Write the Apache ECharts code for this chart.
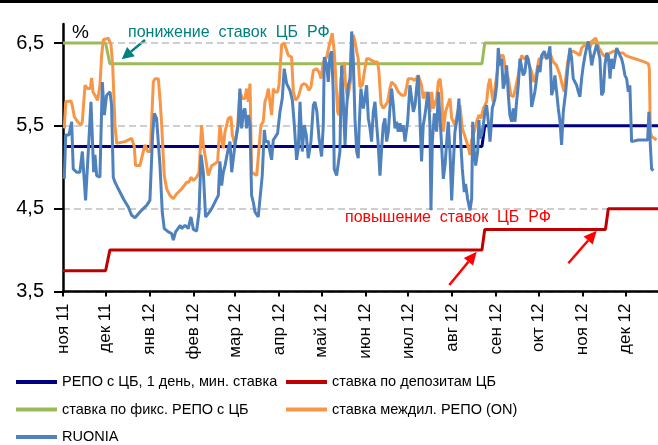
<!DOCTYPE html>
<html>
<head>
<meta charset="utf-8">
<script src="https://cdn.jsdelivr.net/npm/echarts@6/dist/echarts.min.js"></script>
<style>
html, body { margin: 0; padding: 0; background: #fff; }
#chart { width: 658px; height: 445px; }
</style>
</head>
<body>
<div id="chart"></div>
<script>
// x = дни от 23.11.2011 (начало ряда), y = ставка, %
const monthTickDays = [0, 30, 61, 92, 121, 152, 182, 213, 243, 274, 305, 335, 366, 396];
const monthLabels = ['ноя 11', 'дек 11', 'янв 12', 'фев 12', 'мар 12', 'апр 12', 'май 12',
  'июн 12', 'июл 12', 'авг 12', 'сен 12', 'окт 12', 'ноя 12', 'дек 12'];
const yTicks = [3.5, 4.5, 5.5, 6.5];

// ступенчатые ставки ЦБ
const repoMin = [[0, 5.25], [295, 5.25], [297, 5.5], [419, 5.5]];
const depositRate = [[0, 3.75], [30, 3.75], [33, 4.0], [295, 4.0], [297, 4.25], [382, 4.25], [384, 4.5], [419, 4.5]];
const fixedRepo = [[0, 6.5], [30, 6.5], [33, 6.25], [295, 6.25], [297, 6.5], [419, 6.5]];

// междилерское РЕПО овернайт
const interdealerRepo = [
  [0.9,5.47],[1.9,5.79],[5.6,5.80],[6.5,5.75],[8.0,5.61],[10.3,5.55],[12.6,5.51],[13.6,5.55],[15.5,5.99],[17.3,5.95],
  [19.2,5.95],[20.2,6.08],[21.1,5.91],[22.5,5.87],[24.4,5.81],[26.0,5.99],[27.2,6.35],[28.4,6.54],[29.5,6.56],[31.9,6.56],
  [33.8,6.48],[35.0,6.23],[35.7,5.91],[36.6,5.51],[37.8,5.29],[43.6,5.31],[48.3,5.35],[50.2,5.25],[51.1,5.02],[54.2,5.02],
  [55.4,5.11],[56.8,5.13],[57.7,5.27],[59.6,5.19],[61.5,5.19],[63.6,6.03],[64.8,6.07],[67.1,6.07],[68.3,5.83],[69.5,5.51],
  [71.3,4.90],[73.0,4.74],[75.3,4.66],[77.7,4.62],[80.0,4.68],[82.6,4.72],[83.5,4.74],[85.4,4.78],[87.1,4.82],[88.7,4.82],
  [90.1,4.88],[91.8,4.84],[94.1,4.88],[95.8,4.94],[97.6,5.51],[98.8,5.27],[100.4,5.11],[102.3,4.90],[103.5,4.88],[104.7,5.02],
  [107.0,5.04],[108.9,5.07],[110.5,5.51],[111.7,5.35],[112.9,5.23],[114.1,5.43],[116.4,5.59],[118.3,5.61],[119.2,5.39],[121.1,5.27],
  [123.0,5.51],[124.6,5.91],[126.3,5.83],[128.1,5.83],[129.3,5.95],[130.5,5.79],[131.7,6.01],[132.8,4.94],[134.7,4.92],[136.4,4.90],
  [137.5,4.88],[139.4,5.51],[141.0,5.55],[142.2,5.79],[143.4,5.85],[144.6,5.95],[145.7,5.97],[146.9,5.63],[148.1,5.95],[149.3,5.91],
  [151.1,5.91],[152.1,5.99],[154.0,6.48],[155.8,6.50],[156.8,6.48],[158.7,6.35],[161.0,6.33],[162.2,5.91],[163.8,5.81],[165.7,5.85],
  [168.0,5.99],[169.9,6.01],[171.6,5.99],[173.2,5.93],[174.6,5.97],[176.3,6.17],[178.6,6.19],[180.3,6.15],[181.7,6.07],[183.3,6.27],
  [185.7,6.33],[187.3,6.46],[188.5,6.48],[189.6,6.62],[191.0,6.40],[192.0,6.11],[193.4,5.67],[194.3,5.63],[195.7,6.07],[196.7,6.15],
  [198.1,6.27],[199.0,5.99],[200.4,5.83],[201.4,5.85],[202.8,6.07],[204.4,6.60],[205.6,6.52],[206.8,6.40],[207.9,6.31],[209.1,5.97],
  [210.8,5.99],[212.2,6.15],[213.8,6.31],[215.5,6.31],[217.3,6.29],[219.7,6.27],[221.6,6.27],[222.5,6.15],[223.9,5.77],[225.5,5.71],
  [227.2,5.75],[228.6,5.79],[230.2,5.95],[231.4,6.03],[233.8,5.99],[236.1,5.91],[238.5,5.87],[240.8,5.87],[243.1,6.07],[245.5,6.07],
  [247.8,6.05],[250.2,6.11],[252.5,5.99],[253.7,5.83],[255.4,5.91],[256.8,5.91],[258.4,5.67],[259.6,5.91],[260.8,5.71],[263.1,5.83],
  [264.3,6.03],[265.5,6.07],[266.6,5.91],[267.8,5.43],[269.4,5.67],[270.9,5.75],[272.5,5.83],[273.7,5.59],[276.0,5.51],[277.9,5.67],
  [279.5,5.75],[281.2,5.47],[283.1,5.37],[284.9,5.27],[286.6,5.15],[287.8,5.33],[289.6,5.43],[291.3,5.55],[292.9,5.63],[294.3,5.59],
  [296.0,5.71],[297.1,5.73],[298.3,5.79],[299.5,5.99],[300.7,6.07],[301.8,5.91],[303.0,5.79],[304.6,6.01],[306.5,6.23],[308.4,6.35],
  [310.0,6.35],[311.2,6.23],[312.4,6.15],[313.6,6.07],[315.4,5.87],[317.1,5.85],[318.3,5.93],[319.4,5.95],[320.6,6.11],[321.8,6.27],
  [323.0,6.35],[324.8,6.31],[326.5,6.33],[327.6,6.27],[330.0,6.15],[331.2,6.03],[332.3,6.07],[333.5,6.15],[335.2,6.31],[337.0,6.31],
  [338.9,6.35],[340.6,6.31],[342.9,6.38],[345.3,6.27],[347.6,6.23],[350.0,6.11],[351.6,5.99],[353.0,5.91],[354.0,6.07],[355.4,6.27],
  [357.0,6.40],[359.3,6.40],[361.7,6.38],[364.0,6.35],[365.2,6.44],[367.6,6.48],[369.9,6.48],[371.1,6.44],[372.3,6.52],[373.4,6.50],
  [375.1,6.56],[376.5,6.56],[377.4,6.44],[378.8,6.40],[380.5,6.35],[382.8,6.35],[385.2,6.38],[387.5,6.40],[389.9,6.40],[392.2,6.38],
  [394.5,6.38],[396.2,6.35],[399.2,6.33],[402.8,6.31],[406.3,6.29],[409.8,6.27],[412.2,6.25],[412.9,6.19],[413.6,5.43],[414.5,5.37],
  [416.4,5.35],[418.0,5.33]
];

// RUONIA
const ruonia = [
  [0.9,4.86],[1.9,5.39],[4.2,5.39],[6.1,5.55],[7.2,4.98],[9.6,4.94],[11.9,4.94],[13.6,5.19],[15.9,4.60],[17.8,5.19],
  [19.7,5.79],[20.6,5.81],[21.6,4.94],[22.5,5.15],[23.7,4.90],[26.0,4.88],[27.7,6.03],[29.1,5.63],[30.7,5.87],[33.1,5.91],
  [34.2,5.75],[35.4,4.88],[36.6,4.82],[38.9,4.74],[42.5,4.62],[46.0,4.52],[48.3,4.42],[50.7,4.39],[54.2,4.46],[56.5,4.50],
  [58.9,4.54],[61.2,4.60],[63.1,5.39],[64.3,5.65],[65.9,5.59],[68.3,5.02],[69.9,4.46],[71.3,4.26],[74.2,4.22],[76.5,4.20],
  [77.7,4.12],[79.3,4.22],[82.6,4.30],[83.5,4.26],[85.9,4.30],[88.2,4.26],[90.1,4.40],[91.8,4.25],[94.1,4.23],[95.8,4.46],
  [97.2,5.15],[98.8,4.94],[100.4,4.40],[102.3,4.44],[104.7,4.50],[107.0,4.58],[109.4,4.66],[110.5,5.07],[111.7,4.78],[112.9,4.94],
  [114.1,5.02],[116.4,5.23],[117.6,5.31],[118.8,4.94],[119.9,4.92],[121.1,5.27],[123.4,5.51],[124.6,5.95],[125.8,5.47],[127.0,5.67],
  [128.1,5.71],[129.3,5.47],[130.5,5.63],[131.7,5.51],[132.8,4.66],[134.0,4.58],[135.2,4.46],[137.5,4.40],[138.7,4.38],[140.3,4.90],
  [141.8,5.45],[142.7,5.31],[144.6,5.31],[145.7,5.19],[146.9,5.09],[148.1,5.33],[149.3,5.35],[151.1,5.41],[152.8,5.67],[154.4,5.83],
  [155.8,6.19],[157.5,6.01],[159.8,5.93],[161.5,5.81],[162.9,5.51],[164.5,5.09],[165.7,5.23],[166.9,5.79],[168.5,5.19],[169.9,5.51],
  [171.3,5.39],[172.7,5.11],[174.6,5.31],[176.3,5.75],[177.4,5.79],[178.8,5.67],[180.3,5.35],[182.1,5.13],[183.3,5.51],[184.0,6.33],
  [185.7,6.23],[186.8,6.03],[188.0,6.35],[189.2,6.40],[190.3,5.91],[191.0,4.98],[192.7,4.90],[193.9,4.90],[195.0,5.19],[196.2,6.23],
  [197.4,5.79],[198.6,5.27],[199.7,5.71],[200.9,5.99],[202.1,6.07],[203.3,6.64],[204.4,6.31],[205.6,5.59],[206.8,5.19],[207.9,5.11],
  [208.6,5.51],[209.8,5.95],[211.5,5.71],[212.6,5.83],[213.8,5.99],[215.0,5.59],[216.2,5.47],[217.3,5.31],[218.5,5.67],[219.7,5.79],
  [220.9,5.51],[222.0,5.27],[223.2,4.90],[224.4,5.23],[225.5,5.51],[226.7,5.59],[227.9,5.31],[229.1,5.43],[230.2,5.71],[231.4,5.95],
  [232.6,5.75],[233.8,5.47],[234.9,5.55],[236.1,5.43],[237.3,5.53],[238.5,5.43],[239.6,5.51],[240.8,5.31],[242.7,5.55],[244.3,5.99],
  [245.5,6.01],[246.7,5.67],[247.9,5.75],[249.3,6.01],[250.2,6.11],[252.5,5.07],[253.7,5.51],[254.9,5.63],[256.1,5.79],[257.2,5.91],
  [258.4,5.51],[259.1,4.48],[260.1,5.31],[261.5,5.65],[263.1,5.43],[264.3,5.91],[265.5,5.59],[266.6,5.27],[267.8,4.86],[269.0,5.02],
  [270.2,5.31],[271.3,5.55],[272.5,5.19],[273.7,4.60],[274.8,5.02],[276.0,5.43],[277.9,5.63],[278.8,5.83],[280.2,5.27],[281.2,4.98],
  [282.6,4.70],[283.5,4.80],[284.9,4.62],[286.6,4.48],[287.8,4.62],[288.5,5.55],[289.4,5.23],[290.6,5.02],[292.0,5.19],[292.9,5.57],
  [293.6,5.35],[294.8,5.39],[296.0,5.51],[297.1,5.67],[298.3,5.75],[299.5,5.55],[300.7,5.31],[301.4,5.47],[302.3,5.71],[304.2,5.83],
  [305.4,5.99],[306.5,6.44],[307.7,6.23],[308.9,6.31],[310.0,5.95],[311.2,6.03],[312.4,6.23],[313.6,5.87],[314.7,5.63],[315.9,5.55],
  [317.1,5.71],[318.3,5.55],[319.4,5.79],[320.6,5.99],[321.8,6.31],[323.0,6.33],[324.1,6.11],[325.3,6.15],[326.5,6.35],[327.6,6.31],
  [328.8,6.19],[330.0,5.73],[331.2,5.75],[332.3,5.91],[333.5,6.07],[334.7,6.23],[335.9,6.15],[337.0,6.35],[338.9,6.40],[340.6,6.31],
  [341.7,6.35],[342.9,6.46],[344.1,5.87],[345.3,5.95],[346.4,6.11],[347.6,5.91],[348.8,5.71],[350.0,5.55],[351.1,5.27],[352.3,5.67],
  [354.0,5.91],[355.4,6.19],[357.0,6.44],[358.2,6.31],[359.3,6.07],[360.5,6.07],[361.7,5.99],[362.9,5.91],[364.0,5.85],[365.2,6.07],
  [366.4,6.23],[367.6,6.35],[368.7,6.44],[369.9,6.52],[371.1,6.40],[372.3,6.23],[373.4,6.33],[374.6,6.35],[375.8,6.48],[377.0,6.40],
  [378.1,6.31],[379.3,5.87],[380.5,5.91],[381.6,6.23],[382.8,6.38],[384.0,6.35],[385.2,6.07],[386.3,6.31],[387.5,6.19],[388.7,6.31],
  [389.9,6.44],[391.0,6.46],[392.2,6.35],[393.4,6.31],[394.5,6.23],[395.7,6.11],[396.9,6.07],[398.1,5.91],[399.2,5.99],[400.4,5.31],
  [405.1,5.33],[411.7,5.33],[412.6,5.67],[413.6,5.27],[414.5,4.98],[415.7,4.96]
];

const FONT = "'Liberation Sans', Arial, sans-serif";

// стрелка для подписей
function arrow(x1, y1, x2, y2, color, head, half) {
  const dx = x2 - x1, dy = y2 - y1, len = Math.hypot(dx, dy);
  const ux = dx / len, uy = dy / len;
  const bx = x2 - ux * head, by = y2 - uy * head;
  return [
    { type: 'line', shape: { x1: x1, y1: y1, x2: bx, y2: by }, style: { stroke: color, lineWidth: 2.5 } },
    { type: 'polygon', shape: { points: [[x2, y2], [bx - uy * half, by + ux * half], [bx + uy * half, by - ux * half]] },
      style: { fill: color } }
  ];
}

function lineSeries(name, data, color) {
  return {
    name: name, type: 'line', data: data, showSymbol: false, symbol: 'none',
    lineStyle: { color: color, width: 3 }, itemStyle: { color: color }
  };
}

const legendBase = {
  top: 374.5, height: 100, orient: 'vertical', padding: 0, itemGap: 12.5,
  itemWidth: 41, itemHeight: 4, icon: 'rect', selectedMode: false,
  textStyle: { fontFamily: FONT, fontSize: 14.5, color: '#000', lineHeight: 15 }
};

const chart = echarts.init(document.getElementById('chart'));

chart.setOption({
  animation: false,
  grid: { left: 63, right: 0, top: 24, bottom: 153.5 },
  xAxis: {
    type: 'value', min: 0, max: 419,
    axisLine: { show: true, lineStyle: { color: '#000', width: 2.5 } },
    axisTick: { show: true, customValues: monthTickDays, length: 5, lineStyle: { color: '#000', width: 2 } },
    axisLabel: {
      customValues: monthTickDays, rotate: 90, margin: 12,
      fontFamily: FONT, fontSize: 17, color: '#000',
      formatter: function (v) { const i = monthTickDays.indexOf(v); return i >= 0 ? monthLabels[i] : ''; }
    },
    splitLine: { show: false }
  },
  yAxis: {
    type: 'value', min: 3.5, max: 6.73, interval: 1,
    name: '%', nameLocation: 'end', nameGap: -9,
    nameTextStyle: { fontFamily: FONT, fontSize: 19, color: '#000', align: 'left', verticalAlign: 'middle', padding: [0, 0, 0, 9] },
    axisLine: { show: true, lineStyle: { color: '#000', width: 2.5 } },
    axisTick: { show: true, customValues: yTicks, length: 9, lineStyle: { color: '#000', width: 2 } },
    axisLabel: {
      customValues: yTicks, margin: 19, fontFamily: FONT, fontSize: 20, color: '#000',
      formatter: function (v) { return String(v).replace('.', ','); }
    },
    splitLine: { show: true, lineStyle: { color: '#bfbfbf', width: 1.5, type: [7, 4] } }
  },
  legend: [
    Object.assign({}, legendBase, {
      left: 16,
      data: ['РЕПО с ЦБ, 1 день, мин. ставка', 'ставка по фикс. РЕПО с ЦБ', 'RUONIA']
    }),
    Object.assign({}, legendBase, {
      left: 286,
      data: ['ставка по депозитам ЦБ', 'ставка междил. РЕПО (ON)']
    })
  ],
  graphic: [
    { type: 'rect', shape: { x: 0, y: 0, width: 658, height: 3 }, style: { fill: '#000' } },
    { type: 'text', x: 128, y: 32.5,
      style: { text: 'понижение  ставок  ЦБ  РФ', fill: '#008080', font: '16px ' + FONT, verticalAlign: 'middle' } },
    { type: 'text', x: 345, y: 218,
      style: { text: 'повышение  ставок  ЦБ  РФ', fill: '#ff0000', font: '16px ' + FONT, verticalAlign: 'middle' } }
  ].concat(
    arrow(145, 40, 121.7, 59.3, '#008080', 12, 6),
    arrow(449.3, 285, 476.7, 251.7, '#ff0000', 13, 6),
    arrow(568.3, 263.3, 596.7, 230.7, '#ff0000', 13, 6)
  ),
  series: [
    lineSeries('РЕПО с ЦБ, 1 день, мин. ставка', repoMin, '#000080'),
    lineSeries('ставка по депозитам ЦБ', depositRate, '#c00000'),
    lineSeries('ставка по фикс. РЕПО с ЦБ', fixedRepo, '#9bbb59'),
    lineSeries('ставка междил. РЕПО (ON)', interdealerRepo, '#f79646'),
    lineSeries('RUONIA', ruonia, '#4f81bd')
  ]
});
</script>
</body>
</html>
